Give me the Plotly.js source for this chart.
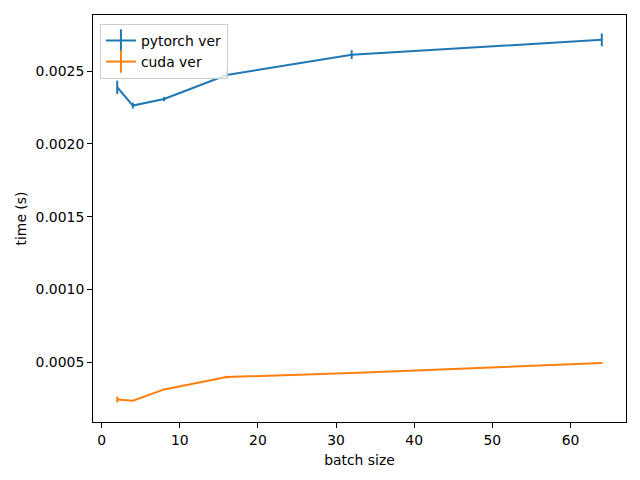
<!DOCTYPE html>
<html>
<head>
<meta charset="utf-8">
<script src="https://cdn.plot.ly/plotly-3.0.1.min.js"></script>
<style>html,body{margin:0;padding:0;background:#fff;}#chart{width:640px;height:480px;}</style>
</head>
<body>
<div id="chart"></div>
<script>
const batchSizes = [2, 4, 8, 16, 32, 64];
const pytorchTime = [0.002390, 0.002264, 0.002309, 0.002474, 0.002614, 0.002716];
const pytorchErr  = [0.000046, 0.000020, 0.000015, 0.000026, 0.000030, 0.000044];
const cudaTime = [0.000243, 0.000234, 0.000312, 0.000397, 0.000425, 0.000493];
const cudaErr  = [0.000020, 0.000003, 0.000005, 0.000009, 0.000004, 0.000005];
const seriesNames = ['pytorch ver', 'cuda ver'];
const colors = ['#1f77b4', '#ff7f0e'];

const font = {family: 'DejaVu Sans, sans-serif', size: 13.9, color: '#000'};

const traces = [
  {x: batchSizes, y: pytorchTime, name: seriesNames[0], type: 'scatter', mode: 'lines',
   showlegend: false, line: {color: colors[0], width: 2},
   error_y: {type: 'data', array: pytorchErr, visible: true, color: colors[0], thickness: 2, width: 0}},
  {x: batchSizes, y: cudaTime, name: seriesNames[1], type: 'scatter', mode: 'lines',
   showlegend: false, line: {color: colors[1], width: 2},
   error_y: {type: 'data', array: cudaErr, visible: true, color: colors[1], thickness: 2, width: 0}}
];
// legend-only entries (line with vertical error tick glyph), placed outside visible range
seriesNames.forEach((n, i) => {
  traces.push({x: [-100], y: [0.001], name: n, type: 'scatter', mode: 'lines+markers',
    line: {color: colors[i], width: 2},
    marker: {symbol: 'line-ns-open', size: 16, color: colors[i], line: {color: colors[i], width: 2}},
    hoverinfo: 'skip'});
});

const axisCommon = {
  showline: true, mirror: true, linecolor: '#000', linewidth: 1,
  showgrid: false, zeroline: false,
  ticks: 'outside', ticklen: 5, tickwidth: 1, tickcolor: '#000',
  tickfont: font
};

const layout = {
  width: 640, height: 480,
  margin: {l: 93, r: 14, t: 15, b: 58},
  paper_bgcolor: '#fff', plot_bgcolor: '#fff',
  font: font,
  showlegend: true,
  legend: {x: 0.013, y: 0.978, xanchor: 'left', yanchor: 'top',
           bgcolor: 'rgba(255,255,255,0.8)', bordercolor: '#cccccc', borderwidth: 1,
           font: font, tracegroupgap: 0},
  xaxis: Object.assign({}, axisCommon, {
    range: [-1.1, 67.1], tickvals: [0, 10, 20, 30, 40, 50, 60],
    title: {text: 'batch size', font: font, standoff: 8}
  }),
  yaxis: Object.assign({}, axisCommon, {
    range: [0.000088, 0.002887], tickvals: [0.0005, 0.0010, 0.0015, 0.0020, 0.0025],
    ticktext: ['0.0005', '0.0010', '0.0015', '0.0020', '0.0025'],
    title: {text: 'time (s)', font: font, standoff: 5}
  })
};

Plotly.newPlot('chart', traces, layout, {displayModeBar: false, staticPlot: true});
</script>
</body>
</html>
